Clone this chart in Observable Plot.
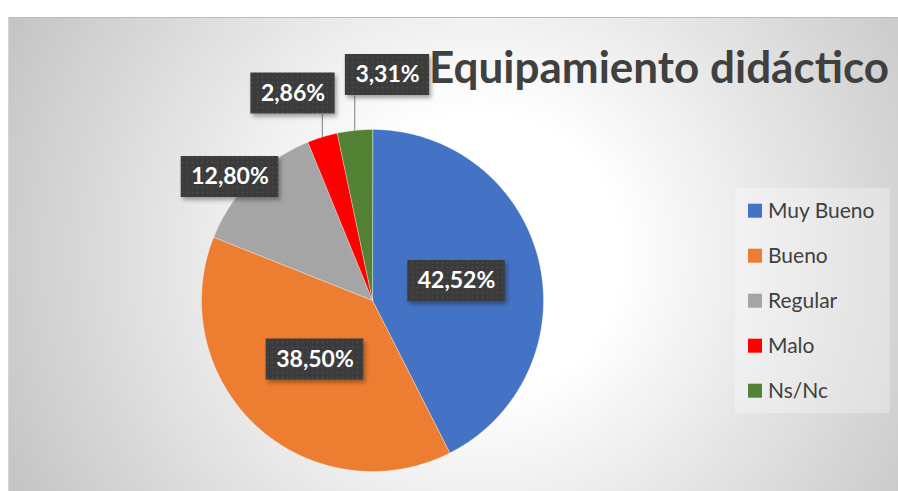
<!DOCTYPE html>
<html><head><meta charset="utf-8">
<script src="https://cdn.jsdelivr.net/npm/d3@7"></script>
<script src="https://cdn.jsdelivr.net/npm/@observablehq/plot@0.6"></script>
<style>
html,body{margin:0;padding:0;background:#fff;}
#wrap{position:relative;width:898px;height:491px;overflow:hidden;}
#bg{position:absolute;left:8px;top:17px;width:890px;height:474px;box-sizing:border-box;
 background:radial-gradient(circle farthest-corner at 53% 50%, #ffffff 0px, #ffffff 140px, #c2c2c2 540px);
 border-top:1px solid #bcbcbc;border-left:1px solid #d4d4d4;}
#chart{position:absolute;left:0;top:0;}
</style>
</head><body>
<div id="wrap"><div id="bg"></div><div id="chart"></div></div>
<script>
// ---- data ----
const categories = ["Muy Bueno", "Bueno", "Regular", "Malo", "Ns/Nc"];
const values = [42.52, 38.50, 12.80, 2.86, 3.31];
const labels = ["42,52%", "38,50%", "12,80%", "2,86%", "3,31%"];
const colors = ["#4472C4", "#ED7D31", "#A5A5A5", "#FF0000", "#548235"];
const title = "Equipamiento didáctico";

// ---- layout (pixels) ----
const cx = 372, cy = 300, R = 171;
const labelPx = [[456, 280.5], [314.5, 359], [229.5, 176.5], [292.5, 93], [387, 74.5]];
const leader = [false, false, false, true, true];
const boxH = 41, boxPad = 10;
const FONT = "Lato, 'Open Sans', sans-serif";

// ---- pie geometry from values ----
const arcs = d3.pie().sort(null).value(d => d)(values);
const slicePts = [];
arcs.forEach((a, i) => {
  slicePts.push({cat: categories[i], x: 0, y: 0});
  const n = Math.max(2, Math.ceil((a.endAngle - a.startAngle) / 0.01));
  for (let k = 0; k <= n; k++) {
    const t = a.startAngle + (a.endAngle - a.startAngle) * k / n;
    slicePts.push({cat: categories[i], x: Math.sin(t), y: Math.cos(t)});
  }
});

// label boxes
const cnv = document.createElement("canvas").getContext("2d");
cnv.font = `bold 23px ${FONT}`;
const lab = categories.map((c, i) => {
  const w = cnv.measureText(labels[i]).width + 2 * boxPad;
  const ux = (labelPx[i][0] - cx) / R, uy = (cy - labelPx[i][1]) / R;
  const mid = (arcs[i].startAngle + arcs[i].endAngle) / 2;
  return {cat: c, text: labels[i], x: ux, y: uy,
    x1: ux - w / 2 / R, x2: ux + w / 2 / R, y1: uy - boxH / 2 / R, y2: uy + boxH / 2 / R,
    lx: Math.sin(mid), ly: Math.cos(mid), leader: leader[i]};
});

const defsMark = () => {
  const g = d3.create("svg:g");
  const defs = g.append("defs");
  const p = defs.append("pattern").attr("id", "dots").attr("patternUnits", "userSpaceOnUse").attr("width", 5).attr("height", 5);
  p.append("rect").attr("width", 5).attr("height", 5).attr("fill", "#3a3a3a");
  p.append("circle").attr("cx", 2.5).attr("cy", 2.5).attr("r", 0.9).attr("fill", "#4e4e4e");
  const f = defs.append("filter").attr("id", "sh").attr("x", "-20%").attr("y", "-20%").attr("width", "150%").attr("height", "170%");
  f.append("feDropShadow").attr("dx", 2).attr("dy", 3).attr("stdDeviation", 2).attr("flood-color", "#000").attr("flood-opacity", 0.35);
  return g.node();
};

const titleMark = () => {
  const g = d3.create("svg:g").attr("text-anchor", "start");
  g.append("text").attr("x", 429).attr("y", 83).attr("font-family", FONT).attr("font-weight", 700)
    .attr("font-size", 44).attr("fill", "#404040").attr("text-anchor", "start").text(title);
  return g.node();
};

const legendMark = () => {
  const g = d3.create("svg:g").attr("text-anchor", "start");
  g.append("rect").attr("x", 735).attr("y", 188).attr("width", 155).attr("height", 225)
    .attr("fill", "#ffffff").attr("fill-opacity", 0.3);
  categories.forEach((c, i) => {
    const yc = 210.7 + i * 45;
    g.append("rect").attr("x", 748).attr("y", yc - 7).attr("width", 14).attr("height", 14).attr("fill", colors[i]);
    g.append("text").attr("x", 768).attr("y", yc + 7.5).attr("font-family", FONT).attr("font-size", 21)
      .attr("fill", "#404040").attr("text-anchor", "start").text(c);
  });
  return g.node();
};

const plot = Plot.plot({
  width: 898, height: 491, margin: 0,
  style: {background: "none", overflow: "visible"},
  x: {domain: [-1, 1], range: [cx - R, cx + R], axis: null},
  y: {domain: [-1, 1], range: [cy + R, cy - R], axis: null},
  color: {domain: categories, range: colors},
  marks: [
    defsMark,
    Plot.line(slicePts, {x: "x", y: "y", z: "cat", fill: "cat", stroke: "#ffffff", strokeWidth: 0.6, strokeOpacity: 0.6, curve: "linear-closed"}),
    Plot.link(lab.filter(d => d.leader), {x1: "lx", y1: "ly", x2: "lx", y2: "y1", stroke: "#7f7f7f", strokeWidth: 1}),
    titleMark,
    Plot.rect(lab, {x1: "x1", x2: "x2", y1: "y1", y2: "y2", fill: "url(#dots)"}),
    Plot.text(lab, {x: "x", y: "y", text: "text", fill: "#ffffff", fontSize: 23, fontWeight: "bold", fontFamily: FONT}),
    legendMark
  ]
});
plot.querySelectorAll('g[aria-label="rect"]').forEach(g => g.setAttribute("filter", "url(#sh)"));
document.getElementById("chart").appendChild(plot);
</script>
</body></html>
